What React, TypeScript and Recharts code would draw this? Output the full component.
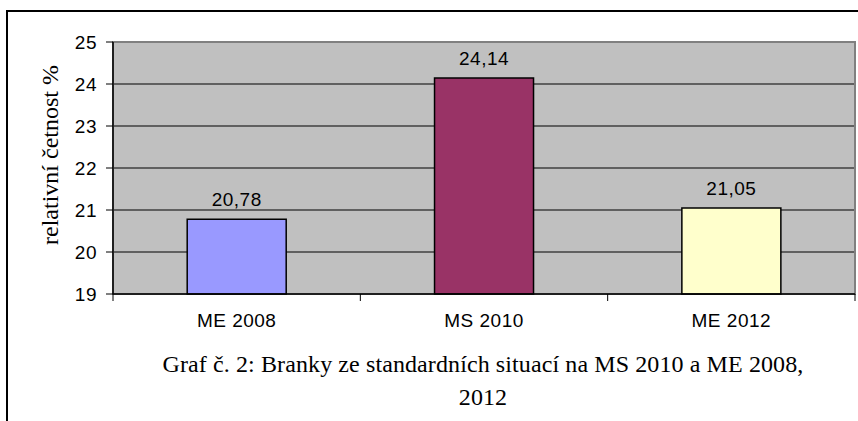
import { BarChart, Bar, XAxis, YAxis, CartesianGrid, LabelList, Cell, ReferenceArea } from 'recharts';

const categories = ['ME 2008', 'MS 2010', 'ME 2012'];
const values = [20.78, 24.14, 21.05];
const colors = ['#9999FF', '#993366', '#FFFFCC'];
const yTicks = [19, 20, 21, 22, 23, 24, 25];
const edgeTicks = [0, 1, 2, 3];

const data = categories.map((c, i) => ({ name: c, value: values[i], pos: i + 0.5 }));

const fmt = (v: any) => String(v).replace('.', ',');

const sans = 'Liberation Sans, Arial, sans-serif';
const serif = '"Liberation Serif", "Times New Roman", serif';

export default function App() {
  return (
    <div style={{ position: 'fixed', left: 0, top: 0, width: 858, height: 421, background: '#fff', overflow: 'hidden' }}>
      <div style={{ position: 'absolute', left: 6, top: 10, width: 852, height: 411, borderTop: '2px solid #000', borderLeft: '2px solid #000' }} />
      <BarChart
        width={858}
        height={421}
        data={data}
        margin={{ top: 42, right: 3, left: 53, bottom: 96 }}
        barCategoryGap="30%"
      >
        <CartesianGrid xAxisId="b" vertical={false} fill="#C0C0C0" stroke="#000" strokeWidth={1} fillOpacity={1} />
        <ReferenceArea xAxisId="b" y1={19} y2={25} fill="none" stroke="#808080" strokeWidth={2} />
        <XAxis
          xAxisId="a"
          type="number"
          dataKey="pos"
          domain={[0, 3]}
          ticks={edgeTicks}
          tickFormatter={() => ''}
          tickSize={7}
          height={1}
          axisLine={{ stroke: '#000', strokeWidth: 1.5 }}
          tickLine={{ stroke: '#000', strokeWidth: 1 }}
        />
        <XAxis
          xAxisId="b"
          dataKey="name"
          axisLine={false}
          tickLine={false}
          height={30}
          tickMargin={13}
          tick={{ fill: '#000', fontSize: 19, fontFamily: sans, letterSpacing: 0.5 }}
        />
        <YAxis
          domain={[19, 25]}
          ticks={yTicks}
          width={60}
          tickSize={7}
          tickMargin={9}
          interval={0}
          axisLine={{ stroke: '#000', strokeWidth: 1.5 }}
          tickLine={{ stroke: '#000' }}
          tick={{ fill: '#000', fontSize: 19, fontFamily: sans, letterSpacing: 0.5 }}
          label={{
            value: 'relativní četnost %',
            angle: -90,
            position: 'insideLeft',
            dx: -9,
            dy: -13,
            style: { fill: '#000', fontSize: 24, fontFamily: serif, textAnchor: 'middle' },
          }}
        />
        <Bar xAxisId="b" dataKey="value" stroke="#000" strokeWidth={1.5} isAnimationActive={false}>
          {data.map((d, i) => (
            <Cell key={d.name} fill={colors[i]} />
          ))}
          <LabelList
            dataKey="value"
            position="top"
            offset={13}
            formatter={fmt}
            style={{ fill: '#000', fontSize: 19, fontFamily: sans, letterSpacing: 0.5 }}
          />
        </Bar>
      </BarChart>
      <div
        style={{
          position: 'absolute',
          left: 108,
          width: 750,
          top: 348,
          textAlign: 'center',
          fontFamily: serif,
          fontSize: 24,
          letterSpacing: 0.1,
          lineHeight: '33px',
          color: '#000',
        }}
      >
        Graf č. 2: Branky ze standardních situací na MS 2010 a ME 2008,
        <br />
        2012
      </div>
    </div>
  );
}
